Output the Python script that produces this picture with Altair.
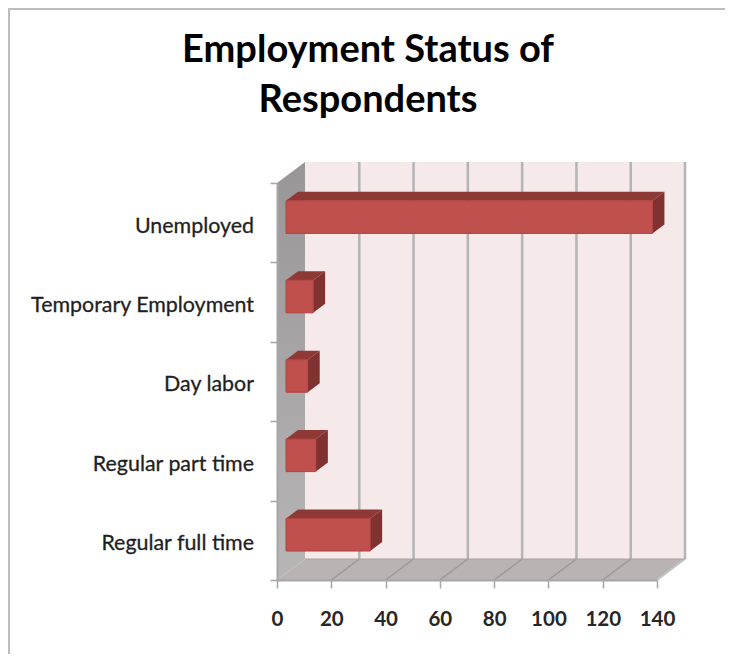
import altair as alt
import pandas as pd

categories = ["Regular full time", "Regular part time", "Day labor", "Temporary Employment", "Unemployed"]
values = [31, 11, 8, 10, 135]
x_ticks = [0, 20, 40, 60, 80, 100, 120, 140]
title_lines = ["Employment Status of", "Respondents"]

XMAX = 140
YMAX = 5
W, H = 380, 397
WALL_DX = 28 * XMAX / W
WALL_DY = 21 * YMAX / H
BAR_DX = 12 * XMAX / W
BAR_DY = 9 * YMAX / H
BAR_START = 9 * XMAX / W
BAR_LOW, BAR_HIGH = 0.365, 0.775

xs = alt.Scale(domain=[0, XMAX], nice=False, zero=False)
ys = alt.Scale(domain=[0, YMAX], nice=False, zero=False)


def X(f="x", axis=None):
    return alt.X(f"{f}:Q", scale=xs, axis=axis, title=None)


def Y(f="y", axis=None):
    return alt.Y(f"{f}:Q", scale=ys, axis=axis, title=None, stack=None)


def slant_x(x0, x1, y0, y1, dx, dy):
    return pd.DataFrame({"x": [x0, x0 + dx], "y": [y0, y0 + dy], "y2": [y1, y1 + dy]})


def slant_y(x0, x1, y0, dx, dy):
    return pd.DataFrame({"y": [y0, y0 + dy], "x": [x0, x0 + dx], "x2": [x1, x1 + dx]})


def v_face(df, fill):
    return alt.Chart(df).mark_area(orient="vertical", fill=fill).encode(
        x=X(), y=Y(), y2="y2:Q")


def h_face(df, fill):
    return alt.Chart(df).mark_area(orient="horizontal", fill=fill).encode(
        y=Y(), x=X(), x2="x2:Q")


back_df = pd.DataFrame({"x": [WALL_DX], "x2": [XMAX + WALL_DX], "y": [WALL_DY], "y2": [YMAX + WALL_DY]})
x_axis = alt.Axis(values=x_ticks, tickSize=8, tickColor="#a6a6a6", tickWidth=1.5, domainColor="#a6a6a6",
                  domainWidth=2, grid=False, labelFont="Lato", labelFontSize=20.5, labelColor="#262626",
                  labelFontWeight="bold", labelPadding=21, labelAngle=0, labelFlush=False,
                  labelOverlap=False, labelBound=False, zindex=1)
y_axis = alt.Axis(values=list(range(YMAX + 1)), tickSize=7, tickColor="#a6a6a6", tickWidth=1.5,
                  domainColor="#a6a6a6", domainWidth=2, grid=False, labels=False, zindex=1)

back = alt.Chart(back_df).mark_rect(fill="#f5e9ea").encode(
    x=X(axis=x_axis), x2="x2:Q", y=Y(axis=y_axis), y2="y2:Q")

grid_df = pd.DataFrame({"x": [t + WALL_DX for t in x_ticks[1:]],
                        "y": [WALL_DY] * (len(x_ticks) - 1),
                        "y2": [YMAX + WALL_DY] * (len(x_ticks) - 1)})
back_grid = alt.Chart(grid_df).mark_rule(color="#b4b4b4", strokeWidth=2.5).encode(x=X(), y=Y(), y2="y2:Q")

floor = h_face(slant_y(0, XMAX, 0, WALL_DX, WALL_DY), "#b9b3b3")
floor_lines = [
    alt.Chart(pd.DataFrame({"x": [t, t + WALL_DX], "y": [0, WALL_DY]}))
    .mark_line(color="#9c9898", strokeWidth=1.5).encode(x=X(), y=Y())
    for t in x_ticks[1:-1]
]
right_edge = alt.Chart(pd.DataFrame({"x": [XMAX, XMAX + WALL_DX], "y": [0, WALL_DY]})).mark_line(
    color="#c4c4c4", strokeWidth=2).encode(x=X(), y=Y())
floor_back = alt.Chart(pd.DataFrame({"x": [WALL_DX], "x2": [XMAX + WALL_DX], "y": [WALL_DY]})).mark_rule(
    color="#a8a3a3", strokeWidth=1).encode(x=X(), x2="x2:Q", y=Y())

left_grad = alt.LinearGradient(gradient="linear", x1=0, x2=0, y1=0, y2=1,
                               stops=[alt.GradientStop(offset=0, color="#989696"),
                                      alt.GradientStop(offset=1, color="#b7b5b5")])
left_wall = v_face(slant_x(0, 0, 0, YMAX, WALL_DX, WALL_DY), left_grad)

bar_layers = []
for i, v in enumerate(values):
    x0, x1 = BAR_START, BAR_START + v
    y0, y1 = i + BAR_LOW, i + BAR_HIGH
    bar_layers.append(h_face(slant_y(x0, x1, y1, BAR_DX, BAR_DY), "#8f3937"))
    bar_layers.append(v_face(slant_x(x1, x1, y0, y1, BAR_DX, BAR_DY), "#7f3230"))
    front = pd.DataFrame({"x": [x0], "x2": [x1], "y": [y0], "y2": [y1]})
    bar_layers.append(alt.Chart(front).mark_rect(fill="#c0504d", stroke="#b5413f", strokeWidth=1).encode(
        x=X(), x2="x2:Q", y=Y(), y2="y2:Q"))

label_df = pd.DataFrame({"cat": categories, "y": [i + 0.45 for i in range(len(categories))], "x": [0] * len(categories)})
cat_labels = alt.Chart(label_df).mark_text(align="right", baseline="middle", xOffset=-23, font="Lato",
                                           fontSize=21.4, color="#1f1f1f", stroke="#1f1f1f",
                                           strokeWidth=0.3).encode(x=X(), y=Y(), text="cat:N")

title_marks = [
    alt.Chart(pd.DataFrame({"t": [line]})).mark_text(
        align="center", baseline="alphabetic", font="Lato", fontSize=38, fontWeight="bold", color="#000000"
    ).encode(x=alt.value(91), y=alt.value(py), text="t:N")
    for line, py in zip(title_lines, [-121, -71])
]

frame_top = alt.Chart(pd.DataFrame({"k": [0]})).mark_rule(color="#bdbdbd", strokeWidth=2).encode(
    x=alt.value(-269), x2=alt.value(448), y=alt.value(-174))
frame_left = alt.Chart(pd.DataFrame({"k": [0]})).mark_rule(color="#bdbdbd", strokeWidth=2).encode(
    x=alt.value(-268), y=alt.value(-175), y2=alt.value(471))

chart = alt.layer(
    back, back_grid, floor, *floor_lines, right_edge, floor_back, left_wall, *bar_layers, cat_labels,
    *title_marks, frame_top, frame_left,
).resolve_axis(x="independent", y="independent").properties(
    width=W, height=H,
    padding={"left": 269, "top": 175, "right": 68, "bottom": 74},
    autosize=alt.AutoSizeParams(type="none"),
).configure_view(stroke=None)

chart.save("out.html", embed_options={"renderer": "svg", "actions": False})
